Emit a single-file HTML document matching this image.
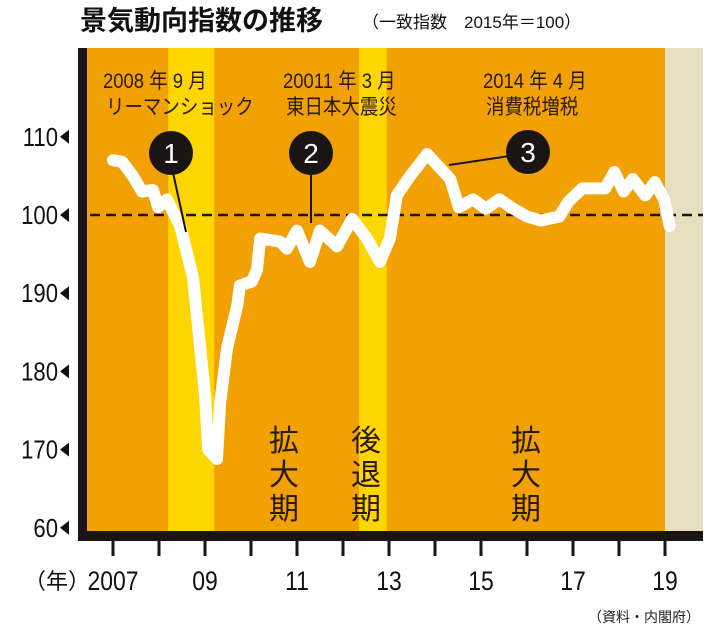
<!DOCTYPE html>
<html><head><meta charset="utf-8">
<style>
html,body{margin:0;padding:0;background:#fff;}
svg{display:block;font-family:"Liberation Sans","Noto Sans CJK JP",sans-serif;}
</style></head>
<body>
<svg width="710" height="633" viewBox="0 0 710 633">
  <text x="80" y="30" font-size="27" font-weight="bold" fill="#111">景気動向指数の推移</text>
  <text x="362" y="28" font-size="17" fill="#111">（一致指数　2015年＝100）</text>
  <g id="plot"></g>
  <text x="700" y="622" font-size="14" text-anchor="end" fill="#222">（資料・内閣府）</text>
</svg>
<script>
const years=[2007,2007.2,2007.43,2007.63,2007.87,2007.98,2008.17,2008.46,2008.74,2009.0,2009.07,2009.26,2009.33,2009.48,2009.7,2009.76,2010.02,2010.13,2010.2,2010.63,2010.78,2011.0,2011.28,2011.5,2011.87,2012.2,2012.52,2012.8,2013.02,2013.17,2013.46,2013.83,2014.33,2014.52,2014.83,2015.1,2015.4,2015.7,2016.0,2016.3,2016.7,2016.9,2017.2,2017.7,2017.9,2018.1,2018.3,2018.57,2018.78,2018.98,2019.1];
const values=[107,106.8,105,103,103.2,101,102,98.6,92,77,70,68.8,76,83,88.4,91,91.5,93,97,96.6,95.7,98,94,98,96,99.5,97,94,97,102.5,105,107.8,104.6,101,102,100.8,102,100.8,99.8,99.3,99.8,101.7,103.4,103.4,105.5,103,104.6,102.5,104.2,102,98.6];
const yTickValues=[110,100,90,80,70,60];
const yTickLabels=["110","100","190","180","170","60"];
const xTickYears=[2007,2008,2009,2010,2011,2012,2013,2014,2015,2016,2017,2018,2019];
const xLabelYears=[2007,2009,2011,2013,2015,2017,2019];
const xLabelTexts=["2007","09","11","13","15","17","19"];
const recessions=[[2008.2,2009.2],[2012.35,2012.95]];
const baseline=100;

const NS="http://www.w3.org/2000/svg";
const X=y=>113+(y-2007)*46;
const Y=v=>215-(v-100)*7.82;
const g=document.getElementById('plot');
function mk(tag,attrs,parent){const e=document.createElementNS(NS,tag);for(const k in attrs)e.setAttribute(k,attrs[k]);(parent||g).appendChild(e);return e;}

let e=mk('rect',{x:87,y:48,width:616,height:483,fill:'#f2a104'});


e=mk('rect',{x:X(2019),y:48,width:703-X(2019),height:483,fill:'#e6dfc0'});


recessions.forEach(r=>{
  const b=mk('rect',{x:X(r[0]),y:48,width:X(r[1])-X(r[0]),height:483,fill:'#fdd600'});
  
  
});
e=mk('rect',{x:78,y:48,width:9,height:493,fill:'#1a1414'});


e=mk('rect',{x:78,y:531,width:625,height:10,fill:'#1a1414'});


xTickYears.forEach(t=>{
  const l=mk('line',{x1:X(t),x2:X(t),y1:541,y2:556,stroke:'#1a1414','stroke-width':3});
  
  
});
xLabelYears.forEach((t,i)=>{
  const tx=mk('text',{x:X(t),y:590,'font-size':27,'text-anchor':'middle',fill:'#111',transform:`translate(${X(t)*0.15},0) scale(0.85,1)`});
  tx.textContent=xLabelTexts[i];
  
  
});
e=mk('text',{x:24,y:589,'font-size':22,fill:'#111'});e.textContent='（年）';


yTickValues.forEach((v,i)=>{
  const tx=mk('text',{x:58,y:Y(v)+9,'font-size':26,'text-anchor':'end',fill:'#111',transform:`translate(${58*0.15},0) scale(0.85,1)`});
  tx.textContent=yTickLabels[i];
  
  
  const tr=mk('polygon',{points:`60,${Y(v)} 69,${Y(v)-7} 69,${Y(v)+7}`,fill:'#111'});
  
  
});
e=mk('line',{x1:90,x2:703,y1:Y(baseline),y2:Y(baseline),stroke:'#1a1414','stroke-width':2.5,'stroke-dasharray':'10 6'});


const ann=[[103,'2008 年 9 月','リーマンショック'],[283,'20011 年 3 月','東日本大震災'],[483,'2014 年 4 月','消費税増税']];
ann.forEach(a=>{
  let t=mk('text',{x:a[0],y:88,'font-size':21,fill:'#2a1a0a',transform:`translate(${a[0]*0.12},0) scale(0.88,1)`});t.textContent=a[1];
  
  
  t=mk('text',{x:a[0]+3,y:114,'font-size':21,fill:'#2a1a0a',transform:`translate(${(a[0]+3)*0.12},0) scale(0.88,1)`});t.textContent=a[2];
  
  
});
[[284,'拡大期'],[366,'後退期'],[526,'拡大期']].forEach(p=>{
  [...p[1]].forEach((c,i)=>{
    const t=mk('text',{x:p[0],y:451+i*34,'font-size':30,'text-anchor':'middle',fill:'#2a1a0a'});
    t.textContent=c;
    
    
  });
});
const d=years.map((y,i)=>(i?'L':'M')+X(y).toFixed(1)+','+Y(values[i]).toFixed(1)).join(' ');
e=mk('path',{d:d,fill:'none',stroke:'#fff','stroke-width':12,'stroke-linejoin':'round','stroke-linecap':'round'});


e=mk('line',{x1:172,y1:168,x2:186,y2:232,stroke:'#1a1414','stroke-width':2});


e=mk('line',{x1:311,y1:168,x2:311,y2:223,stroke:'#1a1414','stroke-width':2});


e=mk('line',{x1:510,y1:156,x2:449,y2:165,stroke:'#1a1414','stroke-width':2});


[[171,153,'1'],[311,153,'2'],[528,152,'3']].forEach(c=>{
  const ci=mk('circle',{cx:c[0],cy:c[1],r:22,fill:'#1a1414'});
  
  
  const t=mk('text',{x:c[0],y:c[1]+10,'font-size':28,'text-anchor':'middle',fill:'#fff'});
  t.textContent=c[2];
  
  
});
</script>
</body></html>
